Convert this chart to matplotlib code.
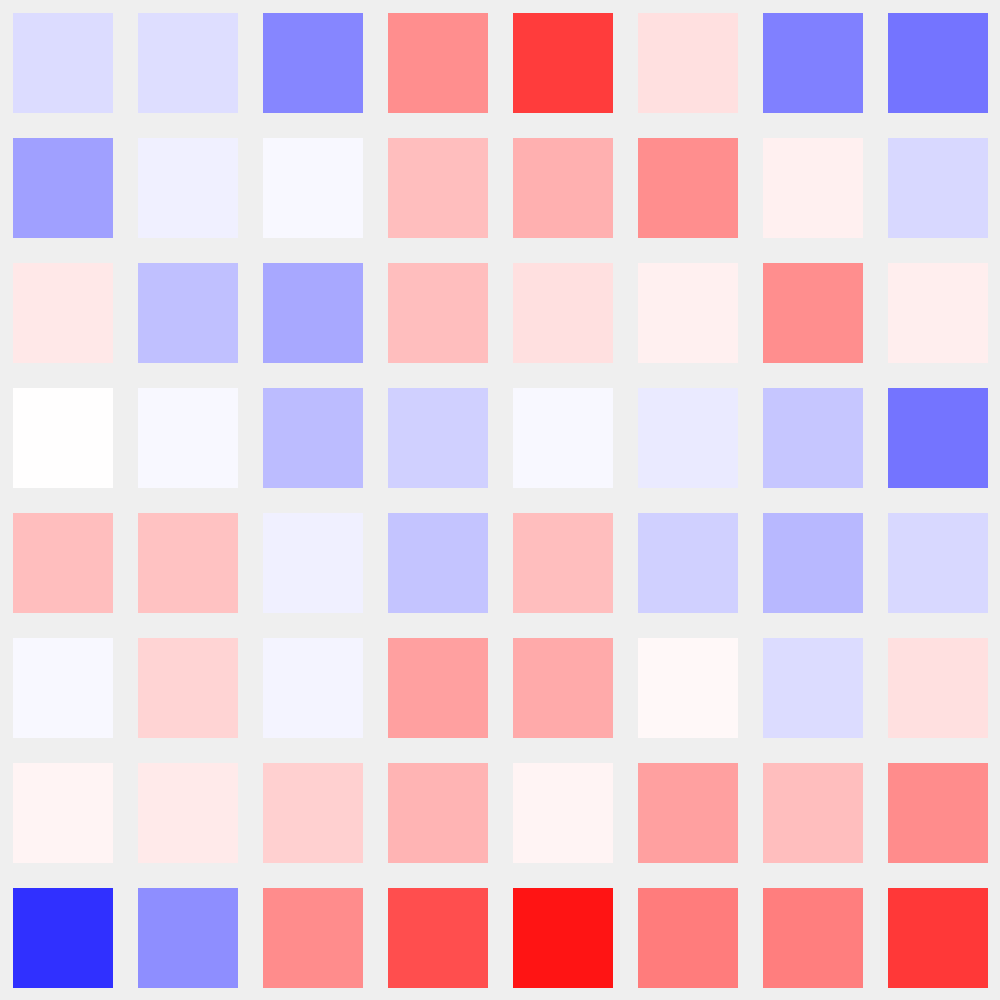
import numpy as np
import matplotlib
matplotlib.use('Agg')
import matplotlib.pyplot as plt
from matplotlib.patches import Rectangle
from matplotlib.colors import Normalize

# cell values, top row first; negative = blue, positive = red
row0 = [-0.14, -0.13, -0.47, 0.44, 0.76, 0.12, -0.50, -0.54]
row1 = [-0.37, -0.06, -0.03, 0.25, 0.31, 0.44, 0.06, -0.15]
row2 = [0.09, -0.25, -0.34, 0.25, 0.12, 0.06, 0.44, 0.07]
row3 = [0.00, -0.03, -0.26, -0.18, -0.03, -0.08, -0.22, -0.54]
row4 = [0.25, 0.24, -0.06, -0.23, 0.25, -0.18, -0.28, -0.15]
row5 = [-0.03, 0.17, -0.04, 0.37, 0.33, 0.03, -0.14, 0.12]
row6 = [0.04, 0.08, 0.18, 0.29, 0.04, 0.37, 0.25, 0.45]
row7 = [-0.81, -0.44, 0.45, 0.69, 0.92, 0.51, 0.50, 0.78]

values = np.array([row0, row1, row2, row3, row4, row5, row6, row7])

cmap = plt.get_cmap('bwr')
norm = Normalize(vmin=-1, vmax=1)

fig = plt.figure(figsize=(10, 10), dpi=100, facecolor='#efefef')
ax = fig.add_axes([0, 0, 1, 1])
ax.set_facecolor('#efefef')

nrows, ncols = values.shape
gap = 0.1
for i in range(nrows):
    for j in range(ncols):
        y = nrows - 1 - i
        ax.add_patch(Rectangle((j + gap, y + gap), 1 - 2 * gap, 1 - 2 * gap,
                               facecolor=cmap(norm(values[i, j])),
                               edgecolor='none'))

ax.set_xlim(0, ncols)
ax.set_ylim(0, nrows)
ax.axis('off')

fig.savefig('out.png', dpi=100, facecolor='#efefef')
